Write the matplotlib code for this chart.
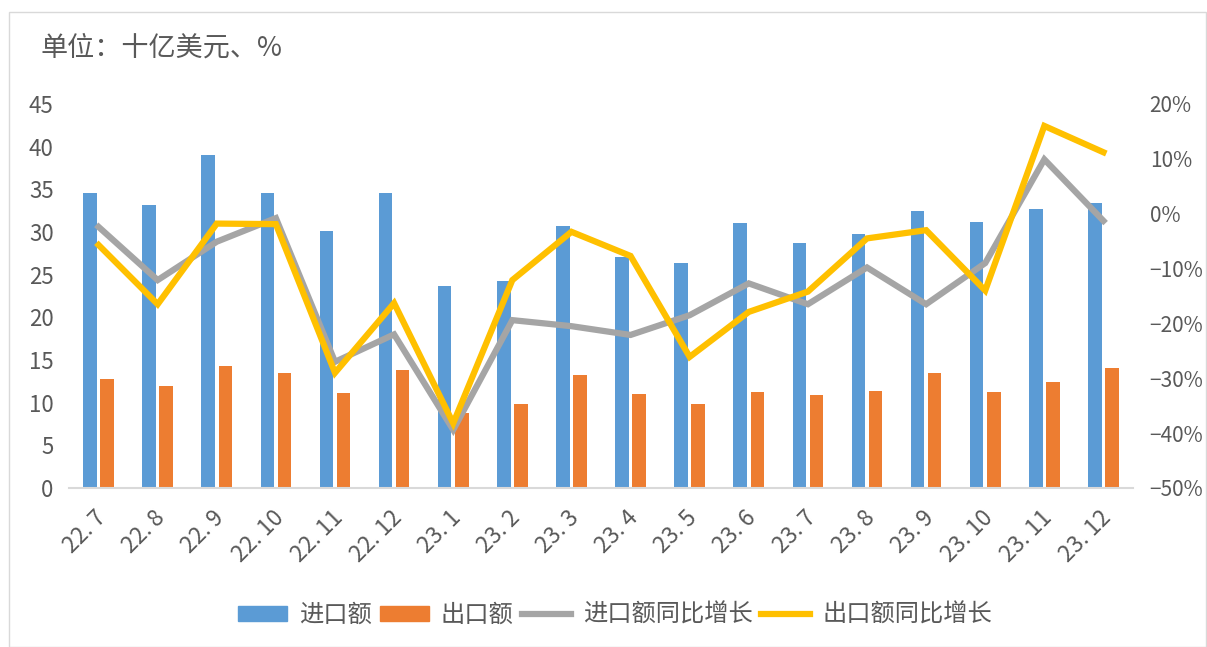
import matplotlib
matplotlib.use("Agg")
import matplotlib.pyplot as plt
import numpy as np
from matplotlib.patches import Patch, Rectangle
from matplotlib.lines import Line2D
from matplotlib.ticker import FuncFormatter
import matplotlib.transforms as mtrans

plt.rcParams['font.family'] = ['Noto Sans CJK SC', 'DejaVu Sans']

months = ["22. 7", "22. 8", "22. 9", "22. 10", "22. 11", "22. 12", "23. 1", "23. 2", "23. 3",
          "23. 4", "23. 5", "23. 6", "23. 7", "23. 8", "23. 9", "23. 10", "23. 11", "23. 12"]
imports = [34.6, 33.2, 39.0, 34.6, 30.1, 34.6, 23.7, 24.3, 30.7,
           27.1, 26.4, 31.1, 28.7, 29.8, 32.5, 31.2, 32.7, 33.4]
exports = [12.8, 12.0, 14.3, 13.5, 11.1, 13.8, 8.8, 9.9, 13.2,
           11.0, 9.8, 11.3, 10.9, 11.4, 13.5, 11.2, 12.4, 14.1]
import_yoy = [-2.4, -12.1, -5.1, -0.8, -27.0, -22.0, -39.4, -19.4, -20.5,
              -22.1, -18.5, -12.7, -16.5, -9.8, -16.5, -9.0, 9.9, -1.3]
export_yoy = [-5.7, -16.5, -1.8, -1.9, -29.0, -16.3, -38.2, -12.1, -3.3,
              -7.7, -26.1, -17.9, -14.2, -4.5, -3.0, -14.0, 16.0, 11.2]

c_blue = "#5b9bd5"
c_orange = "#ed7d31"
c_gray = "#a5a5a5"
c_yellow = "#ffc000"
c_text = "#595959"

fig = plt.figure(figsize=(12.07, 6.47), dpi=100)
fig.patches.append(Rectangle((9/1207, 0), 1 - 9/1207 - 0.001, 1 - 12/647, transform=fig.transFigure,
                             fill=False, edgecolor="#d9d9d9", linewidth=1.0))
ax = fig.add_axes([69/1207, 1 - 488/647, (1133 - 69)/1207, (488 - 104)/647])
ax2 = ax.twinx()

x = np.arange(len(months))
w = 0.23
ax.bar(x - 0.145, imports, width=w, color=c_blue, zorder=2)
ax.bar(x + 0.145, exports, width=w, color=c_orange, zorder=2)
ax2.plot(x, import_yoy, color=c_gray, linewidth=4.5, solid_joinstyle="miter", zorder=3)
ax2.plot(x, export_yoy, color=c_yellow, linewidth=4.5, solid_joinstyle="miter", zorder=4)

ax.set_xlim(-0.5, len(months) - 0.5)
ax.set_ylim(0, 45)
ax.set_yticks(np.arange(0, 46, 5))
ax2.set_ylim(-50, 20)
ax2.set_yticks(np.arange(-50, 21, 10))
ax2.yaxis.set_major_formatter(FuncFormatter(lambda v, p: f"{int(v)}%".replace("-", "\u2212")))

for a in (ax, ax2):
    for s in a.spines.values():
        s.set_visible(False)
    a.tick_params(length=0, labelcolor=c_text)
ax.spines['bottom'].set_visible(True)
ax.spines['bottom'].set_color("#d9d9d9")
ax.spines['bottom'].set_linewidth(1.5)
ax.tick_params(axis='y', pad=11, labelsize=16)
ax2.tick_params(axis='y', pad=12, labelsize=15)

ax.set_xticks(x)
ax.set_xticklabels(months, rotation=45, ha="right", va="top", rotation_mode="anchor", fontsize=16.5)
ax.tick_params(axis='x', pad=13)
offset = mtrans.ScaledTranslation(-4/100, 0, fig.dpi_scale_trans)
for lbl in ax.get_xticklabels():
    lbl.set_transform(lbl.get_transform() + offset)

fig.text(40/1207, 1 - 48/647, "单位：十亿美元、%", fontsize=19.5, color=c_text, va="center", ha="left")

handles = [Patch(color=c_blue), Patch(color=c_orange),
           Line2D([0], [0], color=c_gray, linewidth=4.5),
           Line2D([0], [0], color=c_yellow, linewidth=4.5)]
labels = ["进口额", "出口额", "进口额同比增长", "出口额同比增长"]
fig.legend(handles, labels, loc="center", bbox_to_anchor=(615/1207, 1 - 615/647), ncol=4,
           frameon=False, fontsize=17.5, labelcolor=c_text, handlelength=2.0, handleheight=0.6,
           handletextpad=0.5, columnspacing=0.35)

fig.savefig("out.png", dpi=100)
